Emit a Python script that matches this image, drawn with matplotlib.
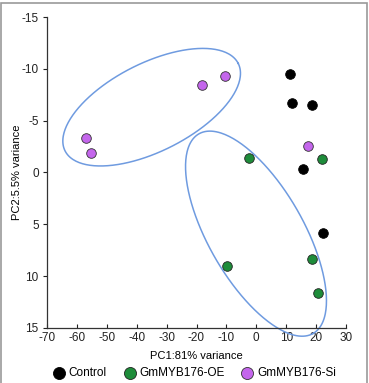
import numpy as np
import matplotlib
matplotlib.use("Agg")
import matplotlib.pyplot as plt
from matplotlib.patches import Rectangle

plt.rcParams['font.family'] = ['Liberation Sans', 'DejaVu Sans']
plt.rcParams['axes.unicode_minus'] = False

# PCA scores
control_x = [11.3, 12.0, 18.6, 15.5, 22.4]
control_y = [-9.5, -6.7, -6.5, -0.3, 5.8]
oe_x = [-2.3, 22.0, -9.9, 18.6, 20.5]
oe_y = [-1.4, -1.3, 9.0, 8.3, 11.6]
si_x = [-57.1, -55.2, -18.1, -10.6, 17.4]
si_y = [-3.3, -1.9, -8.4, -9.3, -2.6]

xticks = list(range(-70, 31, 10))
yticks = [-15, -10, -5, 0, 5, 10, 15]

W, H = 369, 383
fig = plt.figure(figsize=(W / 100, H / 100), dpi=100)
ax_l, ax_r, ax_t, ax_b = 47, 346, 17, 328
ax = fig.add_axes([ax_l / W, 1 - ax_b / H, (ax_r - ax_l) / W, (ax_b - ax_t) / H])

ax.scatter(control_x, control_y, s=48, c='black', edgecolors='black', linewidths=0.6, zorder=3, label='Control')
ax.scatter(oe_x, oe_y, s=48, c='#1e8c3a', edgecolors='#222222', linewidths=0.6, zorder=3, label='GmMYB176-OE')
ax.scatter(si_x, si_y, s=48, c='#c466ec', edgecolors='#333333', linewidths=0.6, zorder=3, label='GmMYB176-Si')

ax.set_xlim(-70, 30)
ax.set_ylim(15, -15)
ax.set_xticks(xticks)
ax.set_yticks(yticks)
ax.tick_params(axis='x', direction='in', length=3, labelsize=8.5, pad=3, colors='#222222')
ax.tick_params(axis='y', direction='out', length=3, labelsize=8.5, pad=3, colors='#222222')
for s in ['top', 'right']:
    ax.spines[s].set_visible(False)
for s in ['left', 'bottom']:
    ax.spines[s].set_color('#333333')
    ax.spines[s].set_linewidth(0.9)

ax.set_xlabel('PC1:81% variance', fontsize=8)
ax.set_ylabel('PC2:5.5% variance', fontsize=8)
ax.xaxis.set_label_coords(0.5, -0.075)
ax.yaxis.set_label_coords(-0.082, 0.5)

# group ellipses: centre in data units, axes and tilt in screen pixels
sx = (ax_r - ax_l) / 100.0
sy = (ax_b - ax_t) / 30.0
t = np.linspace(0, 2 * np.pi, 300)


def ellipse(cx, cy, a, b, phi):
    p = np.deg2rad(phi)
    dx = a * np.cos(t) * np.cos(p) - b * np.sin(t) * np.sin(p)
    dy = a * np.cos(t) * np.sin(p) + b * np.sin(t) * np.cos(p)
    ax.plot(cx + dx / sx, cy + dy / sy, color='#6f9be0', lw=1.1, zorder=2, clip_on=False)


ellipse(-35.0, -6.3, 97, 44, -26.8)
ellipse(-0.1, 5.9, 115, 47.5, 60.2)

fig.legend(loc='center', bbox_to_anchor=(0.527, 1 - 373 / H), ncol=3, frameon=False,
           fontsize=8.5, handlelength=1.0, handletextpad=0.3, columnspacing=1.45, markerscale=1.25,
           borderpad=0, borderaxespad=0)

fig.patches.append(Rectangle((0.5 / W, -0.01), 366 / W, 1 - 2.5 / H + 0.01, transform=fig.transFigure,
                             fill=False, edgecolor='#9a9a9a', lw=1.2))

fig.savefig('out.png', dpi=100)
